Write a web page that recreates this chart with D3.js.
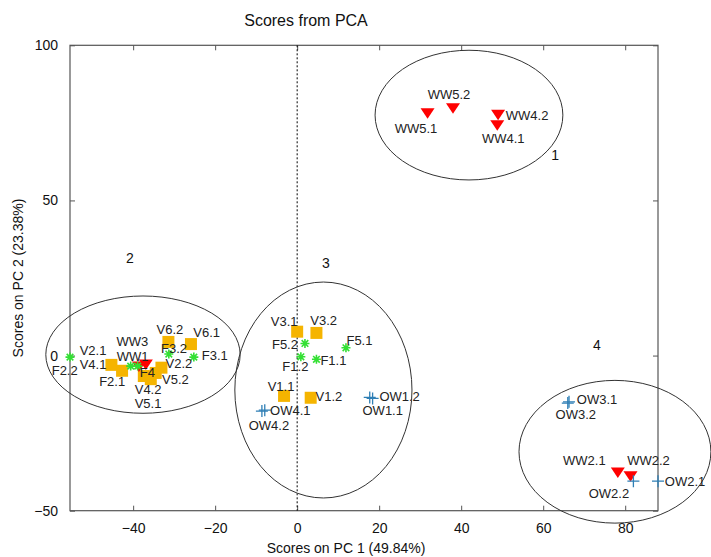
<!DOCTYPE html>
<html>
<head>
<meta charset="utf-8">
<script src="https://cdn.jsdelivr.net/npm/d3@7"></script>
<style>
  body { margin: 0; background: #fff; }
  svg { display: block; font-family: "Liberation Sans", Arial, sans-serif; }
</style>
</head>
<body>
<svg id="chart" width="711" height="557"></svg>
<script>
// PCA score values (PC1, PC2) per sample
const sampleNames = [
  "WW5.1","WW5.2","WW4.2","WW4.1",
  "F2.2","F2.1","F4","F3.2","F3.1",
  "V4.1","V2.1","V4.2","V5.1","V5.2","V2.2","V6.2","V6.1",
  "WW3","WW1",
  "V3.1","V3.2","F5.2","F5.1","F1.2","F1.1","V1.1","V1.2",
  "OW1.2","OW1.1","OW4.1","OW4.2",
  "OW3.1","OW3.2","WW2.1","WW2.2","OW2.2","OW2.1"
];
const pc1Scores = [
  31.8, 38.0, 49.0, 48.8,
  -55.4, -40.6, -38.9, -31.3, -25.2,
  -45.3, -42.7, -37.4, -35.7, -34.5, -33.1, -31.4, -25.9,
  -36.9, -38.6,
  0.0, 4.7, 1.9, 11.9, 0.9, 4.7, -3.2, 3.3,
  18.4, 17.7, -7.9, -8.6,
  66.3, 66.0, 78.2, 81.3, 82.0, 88.0
];
const pc2Scores = [
  78.3, 79.9, 77.8, 74.4,
  -0.5, -3.4, -3.4, 0.5, -0.5,
  -3.0, -4.9, -6.6, -7.6, -5.6, -3.9, 4.4, 3.7,
  -2.7, -3.4,
  7.7, 7.3, 3.9, 2.5, -0.4, -1.2, -13.0, -13.6,
  -13.8, -13.5, -17.6, -17.9,
  -14.9, -15.3, -37.5, -38.7, -40.5, -40.5
];
// sample group: WW, V, F, OW
const sampleGroups = sampleNames.map(n => n.replace(/[0-9.]+$/, ""));

// cluster ellipses (centre and semi-axes in score units)
const clusterIds = ["1", "2", "3", "4"];
const clusterCx = [41.9, -37.6, 6.4, 77.5];
const clusterCy = [77.5, 0.3, -11.1, -31.0];
const clusterRx = [22.9, 23.7, 21.6, 23.4];
const clusterRy = [20.9, 18.9, 34.8, 23.0];
const clusterTagX = [62.9, -40.8, 7.0, 73.1];
const clusterTagY = [64.6, 31.4, 29.8, 3.4];

// axis ticks
const xTicks = [-40, -20, 0, 20, 40, 60, 80];
const yTicks = [-50, 0, 50, 100];

// label placement relative to each marker (px)
const labelShift = {
  "WW5.1": [-11.5, 16.3], "WW5.2": [-4, -13], "WW4.2": [29, 1], "WW4.1": [6, 14],
  "F2.2": [-5.3, 13.7], "F2.1": [-18.5, 15.7], "F4": [9.8, 6.7], "F3.2": [5.2, -5.7], "F3.1": [21, -2],
  "V4.1": [-18.4, -0.6], "V2.1": [-29, -20.6], "V4.2": [4.3, 13.2], "V5.1": [-2.7, 24.2],
  "V5.2": [19.8, 7], "V2.2": [17.5, -4.4], "V6.2": [1.5, -12], "V6.1": [15.7, -11.7],
  "WW3": [-13.5, -22.2], "WW1": [-6.3, -10],
  "V3.1": [-13, -10.7], "V3.2": [7.3, -12.7], "F5.2": [-20, 0.7], "F5.1": [13.5, -7],
  "F1.2": [-5.5, 10], "F1.1": [17, 0.7], "V1.1": [-3, -9.7], "V1.2": [18.3, -1],
  "OW1.2": [27, -2.4], "OW1.1": [13, 12.6], "OW4.1": [25.5, 0], "OW4.2": [7, 14],
  "OW3.1": [28, -2], "OW3.2": [8, 11], "WW2.1": [-33.5, -11.7], "WW2.2": [18, -15.5],
  "OW2.2": [-24.5, 12.7], "OW2.1": [27, 0]
};

const groupColor = { WW: "#ff0000", V: "#f5b400", F: "#33e033", OW: "#2f7fb5" };

const svg = d3.select("#chart");
const margin = { left: 70, right: 53, top: 45.3, bottom: 46.3 };
const W = 711, H = 557;

const x = d3.scaleLinear().domain([-55.4, 88]).range([margin.left, W - margin.right]);
const y = d3.scaleLinear().domain([-50, 100]).range([H - margin.bottom, margin.top]);

const frameColor = "#555";

// title
svg.append("text").attr("x", 306).attr("y", 26).attr("text-anchor", "middle")
  .attr("font-size", 16).attr("fill", "#111").text("Scores from PCA");

// axes (ticks pointing inward on all four sides)
const tickLen = 5;
svg.append("g").attr("transform", `translate(0,${y(-50)})`)
  .call(d3.axisBottom(x).tickValues(xTicks).tickSize(-tickLen).tickPadding(12).tickFormat(d3.format("d")))
  .call(g => g.select(".domain").remove());
svg.append("g").attr("transform", `translate(0,${y(100)})`)
  .call(d3.axisTop(x).tickValues(xTicks).tickSize(-tickLen).tickFormat(""))
  .call(g => g.select(".domain").remove());
svg.append("g").attr("transform", `translate(${x(-55.4)},0)`)
  .call(d3.axisLeft(y).tickValues(yTicks).tickSize(-tickLen).tickPadding(12).tickFormat(d3.format("d")))
  .call(g => g.select(".domain").remove());
svg.append("g").attr("transform", `translate(${x(88)},0)`)
  .call(d3.axisRight(y).tickValues(yTicks).tickSize(-tickLen).tickFormat(""))
  .call(g => g.select(".domain").remove());
svg.selectAll(".tick line").attr("stroke", frameColor);
svg.selectAll(".tick text").attr("font-size", 14).attr("fill", "#111")
  .attr("font-family", "'Liberation Sans', Arial, sans-serif");

// plot frame
svg.append("rect")
  .attr("x", x(-55.4)).attr("y", y(100))
  .attr("width", x(88) - x(-55.4)).attr("height", y(-50) - y(100))
  .attr("fill", "none").attr("stroke", frameColor).attr("stroke-width", 1.2);

// zero line on PC1
svg.append("line")
  .attr("x1", x(0)).attr("x2", x(0)).attr("y1", y(100)).attr("y2", y(-50))
  .attr("stroke", "#000").attr("stroke-width", 1).attr("stroke-dasharray", "2,2");

// axis titles
svg.append("text").attr("x", 346).attr("y", 553).attr("text-anchor", "middle")
  .attr("font-size", 14).attr("fill", "#111").text("Scores on PC 1 (49.84%)");
svg.append("text").attr("transform", "translate(23,278) rotate(-90)").attr("text-anchor", "middle")
  .attr("font-size", 14).attr("fill", "#111").text("Scores on PC 2 (23.38%)");

// cluster ellipses
const clusters = clusterIds.map((id, i) => ({
  id, cx: clusterCx[i], cy: clusterCy[i], rx: clusterRx[i], ry: clusterRy[i],
  tx: clusterTagX[i], ty: clusterTagY[i]
}));
svg.append("g").selectAll("ellipse").data(clusters).join("ellipse")
  .attr("cx", d => x(d.cx)).attr("cy", d => y(d.cy))
  .attr("rx", d => x(d.cx + d.rx) - x(d.cx)).attr("ry", d => y(d.cy - d.ry) - y(d.cy))
  .attr("fill", "none").attr("stroke", "#333").attr("stroke-width", 1);
svg.append("g").selectAll("text").data(clusters).join("text")
  .attr("x", d => x(d.tx)).attr("y", d => y(d.ty)).attr("dy", "0.35em")
  .attr("text-anchor", "middle").attr("font-size", 14).attr("fill", "#111")
  .text(d => d.id);

// samples
const samples = sampleNames.map((name, i) => ({
  name, group: sampleGroups[i], px: x(pc1Scores[i]), py: y(pc2Scores[i])
}));

const markers = svg.append("g");
const order = ["V", "WW", "F", "OW"];
order.forEach(grp => {
  const pts = samples.filter(d => d.group === grp);
  const col = groupColor[grp];
  const sel = markers.append("g").selectAll("path").data(pts).join("path");
  if (grp === "V") {
    sel.attr("d", d => `M${d.px - 6},${d.py - 6}h12v12h-12Z`).attr("fill", col);
  } else if (grp === "WW") {
    sel.attr("d", d => `M${d.px - 7},${d.py - 4.5}L${d.px + 7},${d.py - 4.5}L${d.px},${d.py + 6}Z`)
      .attr("fill", col);
  } else if (grp === "F") {
    const r = 4.5, q = 3.3;
    sel.attr("d", d => `M${d.px - r},${d.py}H${d.px + r}M${d.px},${d.py - r}V${d.py + r}` +
        `M${d.px - q},${d.py - q}L${d.px + q},${d.py + q}M${d.px - q},${d.py + q}L${d.px + q},${d.py - q}`)
      .attr("fill", "none").attr("stroke", col).attr("stroke-width", 1.6);
  } else {
    const r = 6;
    sel.attr("d", d => `M${d.px - r},${d.py}H${d.px + r}M${d.px},${d.py - r}V${d.py + r}`)
      .attr("fill", "none").attr("stroke", col).attr("stroke-width", 1.3);
  }
});

// sample labels
svg.append("g").selectAll("text").data(samples).join("text")
  .attr("x", d => d.px + labelShift[d.name][0])
  .attr("y", d => d.py + labelShift[d.name][1])
  .attr("dy", "0.35em").attr("text-anchor", "middle")
  .attr("font-size", 13).attr("fill", "#222")
  .text(d => d.name);
</script>
</body>
</html>
